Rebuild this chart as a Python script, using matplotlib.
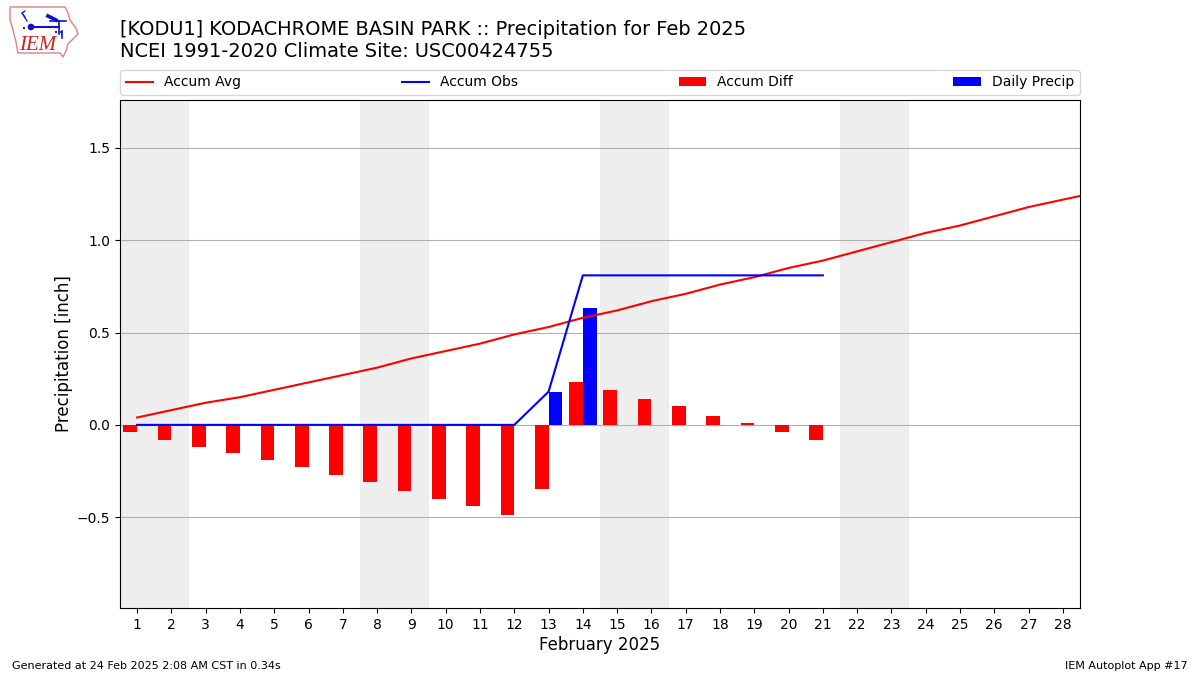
import matplotlib
matplotlib.use("Agg")
import matplotlib.pyplot as plt
from matplotlib.patches import Polygon, Circle

days = list(range(1, 29))
avg_days = list(range(1, 30))
accum_avg = [0.04, 0.08, 0.12, 0.15, 0.19, 0.23, 0.27, 0.31, 0.36, 0.40, 0.44, 0.49, 0.53, 0.58,
             0.62, 0.67, 0.71, 0.76, 0.80, 0.85, 0.89, 0.94, 0.99, 1.04, 1.08, 1.13, 1.18, 1.22, 1.26]
obs_days = list(range(1, 22))
accum_obs = [0, 0, 0, 0, 0, 0, 0, 0, 0, 0, 0, 0, 0.18, 0.81, 0.81, 0.81, 0.81, 0.81, 0.81, 0.81, 0.81]
accum_diff = [-0.04, -0.08, -0.12, -0.15, -0.19, -0.23, -0.27, -0.31, -0.36, -0.40, -0.44, -0.49,
              -0.35, 0.23, 0.19, 0.14, 0.10, 0.05, 0.01, -0.04, -0.08]
daily_days = [13, 14]
daily_precip = [0.18, 0.635]
weekends = [(0.5, 2.5), (7.5, 9.5), (14.5, 16.5), (21.5, 23.5)]

W, H = 1200, 675
fig = plt.figure(figsize=(12, 6.75), dpi=100)
ax = fig.add_axes([120 / W, 1 - 608 / H, 960 / W, 508 / H])

for a, b in weekends:
    ax.axvspan(a, b, color="#eeeeee", lw=0, zorder=0)
ax.set_axisbelow(True)
ax.grid(True, axis="y", color="#b0b0b0", lw=0.8)

l1, = ax.plot(avg_days, accum_avg, color="red", lw=1.5, label="Accum Avg", zorder=3)
l2, = ax.plot(obs_days, accum_obs, color="blue", lw=1.5, label="Accum Obs", zorder=3)
b1 = ax.bar(obs_days, accum_diff, width=-0.4, align="edge", color="red", label="Accum Diff", zorder=2)
b2 = ax.bar(daily_days, daily_precip, width=0.4, align="edge", color="blue", label="Daily Precip", zorder=2)

ax.set_xlim(0.5, 28.5)
ax.set_ylim(-0.992, 1.76)
ax.set_xticks(days)
ax.set_yticks([-0.5, 0, 0.5, 1.0, 1.5])
ax.tick_params(labelsize=10)
ax.set_xlabel("February 2025", fontsize=12, labelpad=3)
ax.set_ylabel("Precipitation [inch]", fontsize=12, labelpad=2.5)

fig.legend(handles=[l1, l2, b1, b2], ncol=4, mode="expand", loc="lower left",
           bbox_to_anchor=(120 / W, 1 - 95 / H, 960 / W, 25 / H), borderaxespad=0, fontsize=10)

fig.text(120 / W, 1 - 29.5 / H, "[KODU1] KODACHROME BASIN PARK :: Precipitation for Feb 2025",
         fontsize=13.98, va="center", ha="left")
fig.text(120 / W, 1 - 51.5 / H, "NCEI 1991-2020 Climate Site: USC00424755",
         fontsize=13.98, va="center", ha="left")
fig.text(12 / W, 1 - 666 / H, "Generated at 24 Feb 2025 2:08 AM CST in 0.34s", fontsize=8, va="center")
fig.text(1188 / W, 1 - 666 / H, "IEM Autoplot App #17", fontsize=8, va="center", ha="right")

# IEM logo, drawn in pixel coordinates
logo = fig.add_axes([0, 1 - 70 / H, 120 / W, 70 / H])
logo.set_xlim(0, 120)
logo.set_ylim(70, 0)
logo.axis("off")
outline = [(10, 7), (65, 7), (68, 13), (70, 20), (76, 28), (78, 34), (72, 40), (68, 44),
           (66, 51), (63, 57), (60, 53), (18, 53), (16, 42), (13, 30), (10, 20)]
logo.add_patch(Polygon(outline, closed=True, fill=False, ec="#e08080", lw=1))
blue = "#1010d0"
logo.plot([31, 59], [27, 27], color=blue, lw=1.5)
logo.plot([50, 66], [21, 21], color=blue, lw=1.2)
logo.plot([59, 59], [21, 34], color=blue, lw=1.2)
logo.plot([48, 56], [16, 20], color=blue, lw=2.6)
logo.add_patch(Circle((31, 27), 2.6, color=blue))
logo.plot([25, 22, 25], [17, 13, 11], color=blue, lw=0.9)
logo.plot([22, 27], [13, 21], color=blue, lw=0.9)
logo.plot([23, 27], [28, 28], color=blue, lw=1.4, ls=":")
logo.plot([55, 64], [32, 32], color=blue, lw=1.4, ls=":")
logo.plot([62, 62], [31, 38], color=blue, lw=1.2)
logo.text(38, 46, "IEM", color="#d02020", fontsize=15, family="Liberation Serif", style="italic",
          ha="center", va="center")

fig.savefig("out.png", dpi=100)
